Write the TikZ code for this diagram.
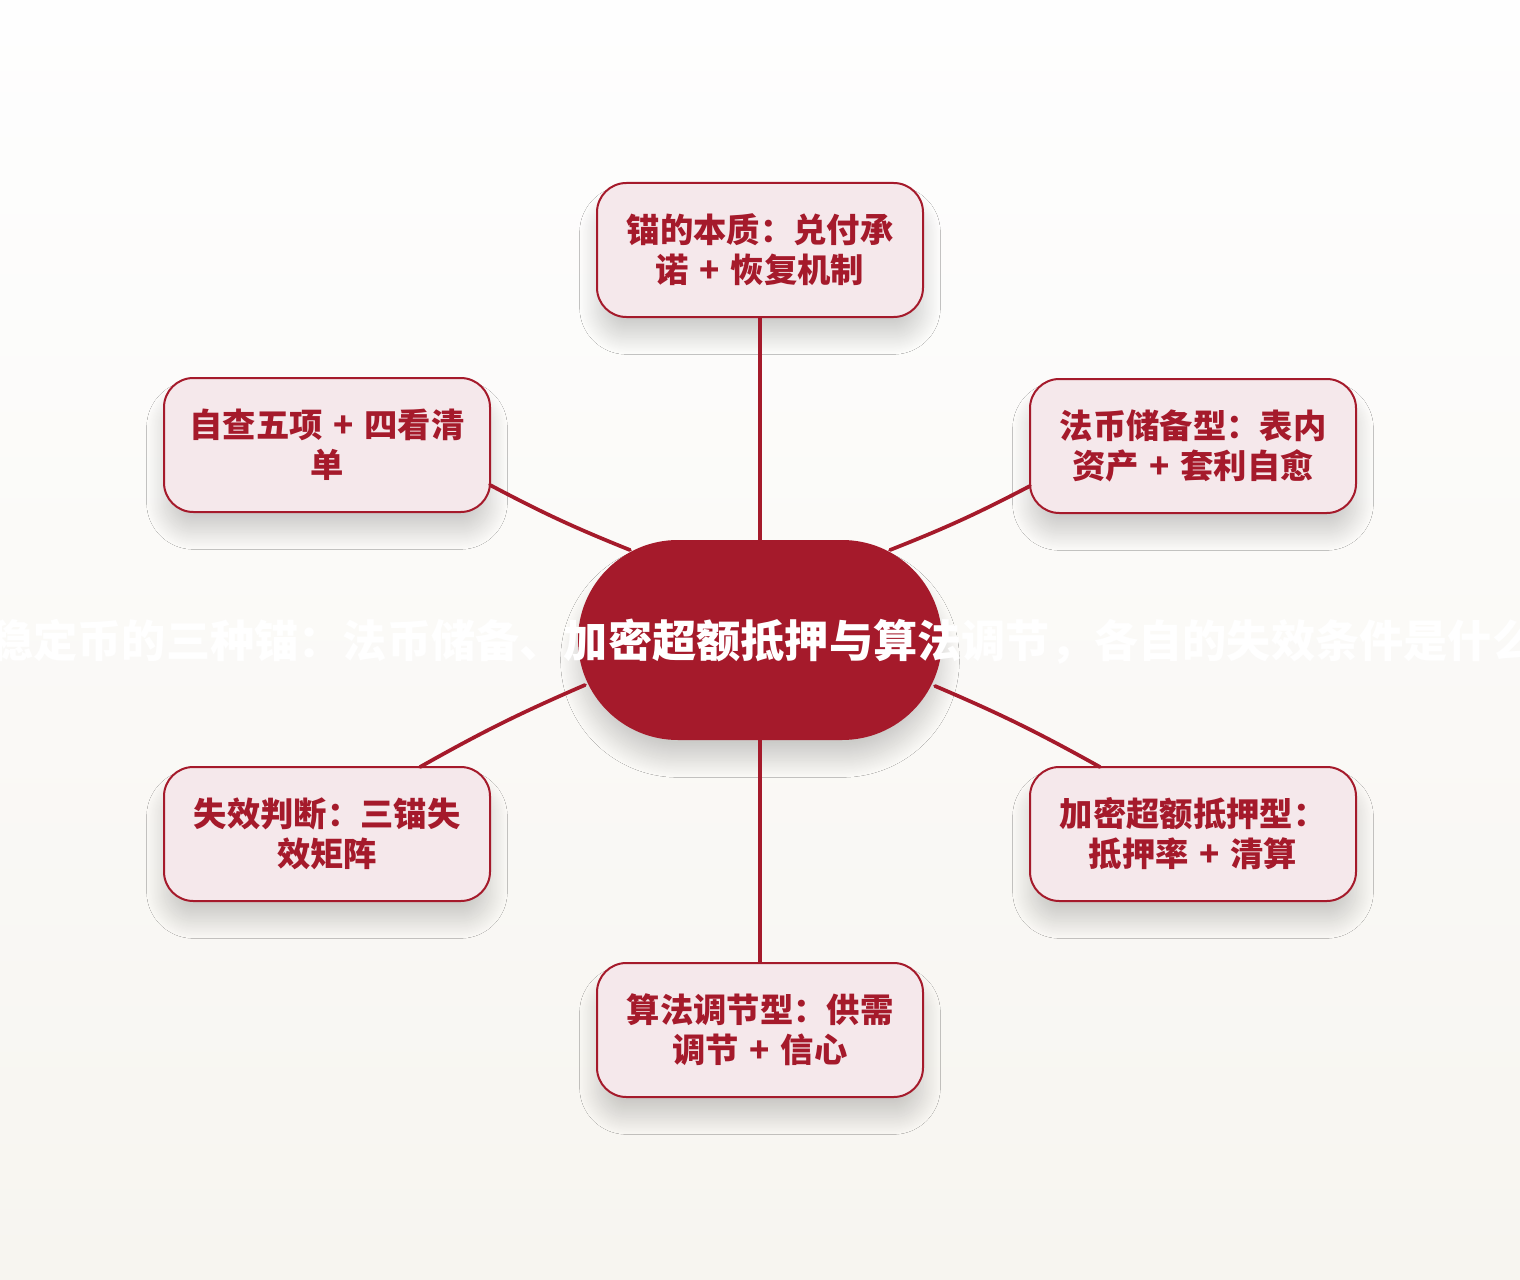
\documentclass[tikz,border=0pt]{standalone}
\usepackage{fontspec}
\newfontfamily\cjk{Noto Sans CJK SC}
\usetikzlibrary{calc,shadows.blur}
\definecolor{crim}{HTML}{A51A2B}
\definecolor{boxfill}{HTML}{F5E8EB}
\definecolor{bgtop}{HTML}{FEFEFE}
\definecolor{bgbot}{HTML}{F7F5F0}
\newcommand{\plusgap}{\hspace{8pt}+\hspace{8pt}}
\tikzset{
  softshadow/.style={blur shadow={shadow xshift=0pt, shadow yshift=-15pt,
     shadow blur radius=13pt, shadow blur steps=40, shadow opacity=18}},
  leaf/.style={draw=crim, line width=1.5pt, fill=boxfill, rounded corners=22pt,
    minimum width=244.5pt, minimum height=100.5pt, inner sep=0pt,
    align=center, text=crim, font=\cjk\bfseries\fontsize{25}{30}\selectfont, softshadow},
  hub/.style={fill=crim, rounded corners=74.9pt, minimum width=273pt, minimum height=150pt,
    inner sep=0pt, softshadow},
  hubtext/.style={text=white, font=\cjk\bfseries\fontsize{33.15}{38}\selectfont, inner sep=0pt},
  link/.style={draw=crim, line width=2.8pt, line cap=round},
}
\begin{document}
\begin{tikzpicture}[x=0.75pt, y=-0.75pt]
\useasboundingbox (0,0) rectangle (1520,1280);
\clip (0,0) rectangle (1520,1280);
\shade[top color=bgtop, bottom color=bgbot] (0,0) rectangle (1520,1280);

\node[hub] (c) at (760,640) {};
\node[leaf] (t)  at (760,250) {锚的本质：兑付承\\诺\plusgap 恢复机制};
\node[leaf] (ul) at (327,445) {自查五项\plusgap 四看清\\单};
\node[leaf] (ur) at (1193,446) {法币储备型：表内\\资产\plusgap 套利自愈};
\node[leaf] (ll) at (327,834) {失效判断：三锚失\\效矩阵};
\node[leaf] (lr) at (1193,834) {加密超额抵押型：\\抵押率\plusgap 清算};
\node[leaf] (b)  at (760,1030) {算法调节型：供需\\调节\plusgap 信心};

\draw[link] (t.south) -- (c.north);
\draw[link] (c.south) -- (b.north);
\draw[link] ($(ul.center)+(163,40)$) to[bend right=3] ($(c.center)+(-130,-90)$);
\draw[link] ($(ur.center)+(-163,40)$) to[bend left=3] ($(c.center)+(130,-90)$);
\draw[link] ($(ll.center)+(93,-67)$) to[bend left=3] ($(c.center)+(-175,45)$);
\draw[link] ($(lr.center)+(-93,-67)$) to[bend right=3] ($(c.center)+(175,46)$);

\node[hubtext, anchor=west] (ct) at ($(c.center)+(-771,2)$) {稳定币的三种锚：法币储备、加密超额抵押与算法调节，各自的失效条件是什么？};
\end{tikzpicture}
\end{document}
